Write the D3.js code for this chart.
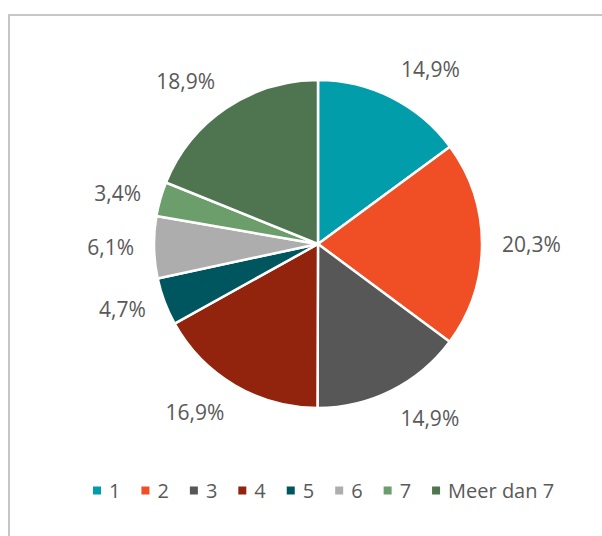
<!DOCTYPE html>
<html>
<head>
<meta charset="utf-8">
<style>
  body { margin: 0; background: #fff; }
  svg { display: block; font-family: 'Open Sans', sans-serif; }
</style>
</head>
<body>
<svg width="602" height="536"></svg>
<script src="https://d3js.org/d3.v7.min.js"></script>
<script>
  // categories and shares (percent)
  let categories = ["1", "2", "3", "4", "5", "6", "7", "Meer dan 7"];
  let values = [14.9, 20.3, 14.9, 16.9, 4.7, 6.1, 3.4, 18.9];
  let labels = ["14,9%", "20,3%", "14,9%", "16,9%", "4,7%", "6,1%", "3,4%", "18,9%"];
  let colors = ["#019dab", "#f04e24", "#575757", "#92230c", "#00565e", "#adadad", "#6b9e6b", "#4e7550"];

  let svg = d3.select("svg");
  let cx = 318, cy = 244, radius = 164;

  // chart area border (runs off the right and bottom edge)
  svg.append("rect")
    .attr("x", 9).attr("y", 15)
    .attr("width", 640).attr("height", 600)
    .style("fill", "none")
    .style("stroke", "#c6c6c6")
    .style("stroke-width", 2);

  let color = d3.scaleOrdinal().domain(categories).range(colors);

  let pie = d3.pie().sort(null).value(d => d.value);
  let arc = d3.arc().innerRadius(0).outerRadius(radius);
  let data = pie(categories.map((c, i) => ({ cat: c, value: values[i], label: labels[i] })));

  let g = svg.append("g").attr("transform", `translate(${cx},${cy})`);

  g.selectAll("path")
    .data(data)
    .join("path")
    .attr("d", arc)
    .style("fill", d => color(d.data.cat))
    .style("stroke", "#fff")
    .style("stroke-width", 2.5)
    .style("stroke-linejoin", "round");

  // outside-end labels, box corner anchored on a ring around the pie
  let labelR = 184;
  let clamp = v => Math.max(0, Math.min(1, v));
  g.selectAll("text.lbl")
    .data(data)
    .join("text")
    .attr("class", "lbl")
    .text(d => d.data.label)
    .style("font-size", "21px")
    .style("fill", "#595959")
    .attr("text-anchor", "middle")
    .attr("dy", "0.36em")
    .each(function (d) {
      let a = (d.startAngle + d.endAngle) / 2;
      let s = Math.sin(a), c = Math.cos(a);
      let w = this.getComputedTextLength(), h = 20;
      let x = labelR * s + Math.sign(s) * (w / 2) * clamp(Math.abs(s) * 3);
      let y = -labelR * c - Math.sign(c) * (h / 2) * clamp((Math.abs(c) - 0.3) * 2);
      d3.select(this).attr("x", x).attr("y", y);
    });

  // legend
  let legend = svg.append("g").attr("transform", "translate(93,490.5)");
  let xPos = 0;
  categories.forEach((c, i) => {
    let item = legend.append("g").attr("transform", `translate(${xPos},0)`);
    item.append("rect")
      .attr("x", 0).attr("y", -4)
      .attr("width", 8).attr("height", 8)
      .style("fill", color(c));
    let t = item.append("text")
      .attr("x", 16)
      .attr("dy", "0.36em")
      .style("font-size", "20px")
      .style("fill", "#595959")
      .text(c);
    xPos += 16 + t.node().getComputedTextLength() + 21;
  });
</script>
</body>
</html>
